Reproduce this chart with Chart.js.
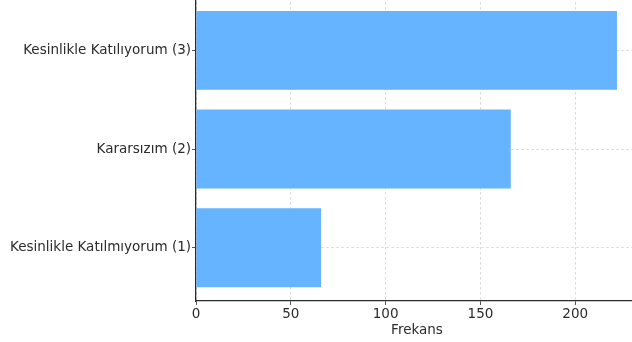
<!DOCTYPE html>
<html>
<head>
<meta charset="utf-8">
<script src="https://cdn.jsdelivr.net/npm/chart.js@4"></script>
<style>
  html, body { margin: 0; padding: 0; background: #fff; overflow: hidden; }
  #wrap { position: relative; width: 632px; height: 342px; overflow: hidden; }
  #chart { position: absolute; left: 0; top: -12px; }
</style>
</head>
<body>
<div id="wrap"><canvas id="chart" width="640" height="354"></canvas></div>
<script>
  // kategoriler (alttan üste)
  const categories = ['Kesinlikle Katılmıyorum (1)', 'Kararsızım (2)', 'Kesinlikle Katılıyorum (3)'];
  const frequencies = [66, 166, 222];
  const xTicks = [0, 50, 100, 150, 200];
  const xLabel = 'Frekans';

  const FONT = { family: "'DejaVu Sans', sans-serif", size: 13.5 };
  const TEXT = '#2b2b2b';
  const GRID = 'rgba(176,176,176,0.6)';

  const points = frequencies.map((v, i) => ({ x: v, y: i }));

  new Chart(document.getElementById('chart'), {
    type: 'bar',
    data: {
      datasets: [{
        data: points,
        backgroundColor: '#66b3ff',
        borderWidth: 0,
        categoryPercentage: 0.8,
        barPercentage: 1
      }]
    },
    options: {
      indexAxis: 'y',
      responsive: false,
      animation: false,
      layout: { padding: { top: 1, right: 2, bottom: 3, left: 0 } },
      plugins: { legend: { display: false }, tooltip: { enabled: false } },
      scales: {
        x: {
          type: 'linear',
          min: 0,
          max: 233.1,
          afterBuildTicks: s => { s.ticks = xTicks.map(v => ({ value: v })); },
          ticks: { color: TEXT, font: FONT, padding: 1, maxRotation: 0 },
          grid: { color: GRID, tickColor: TEXT, tickLength: 4, lineWidth: 0.8 },
          border: { color: TEXT, width: 1.3, dash: [2.5, 2.5] },
          title: { display: true, text: xLabel, color: TEXT, font: FONT, padding: { top: 0, bottom: 0 } },
          afterFit: s => { s.height = 38; }
        },
        y: {
          type: 'linear',
          min: -0.54,
          max: 2.54,
          offset: false,
          afterBuildTicks: s => { s.ticks = categories.map((c, i) => ({ value: i })); },
          ticks: { color: TEXT, font: FONT, padding: 1, callback: v => categories[v] },
          grid: { offset: false, color: GRID, tickColor: TEXT, tickLength: 4, lineWidth: 0.8 },
          border: { color: TEXT, width: 1.3, dash: [2.5, 2.5] },
          afterFit: s => { s.width = 196; }
        }
      }
    }
  });
</script>
</body>
</html>
